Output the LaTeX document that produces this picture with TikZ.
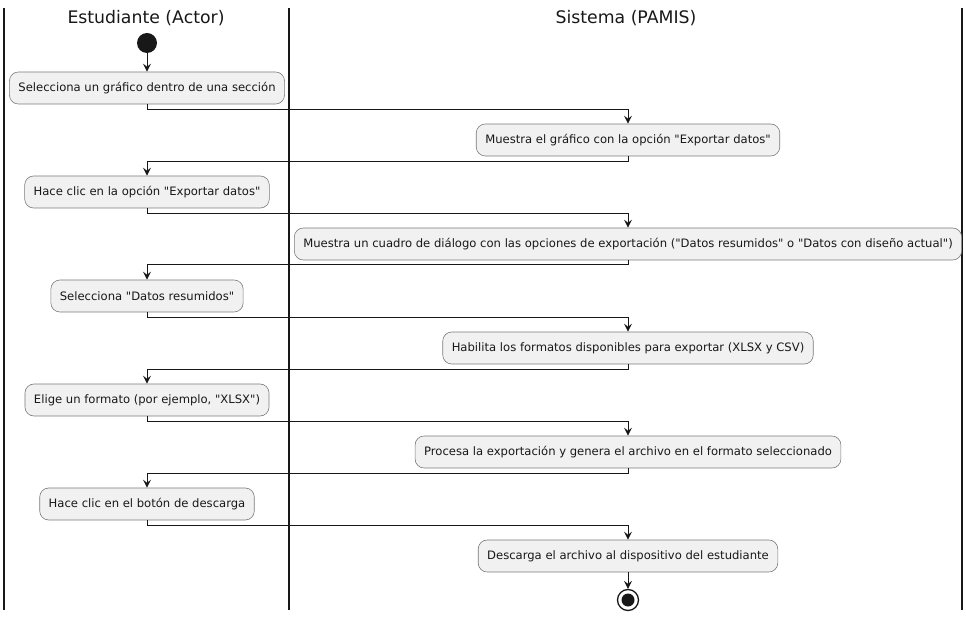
\documentclass[tikz,border=0pt]{standalone}
\usepackage{fontspec}
\setmainfont[Ligatures=TeXReset]{DejaVu Sans}
\usepackage{tikz}
\usetikzlibrary{arrows.meta, positioning, calc}

\definecolor{actfill}{HTML}{F1F1F1}
\definecolor{actline}{HTML}{7A7A7A}
\definecolor{ink}{HTML}{181818}

\begin{document}
\begin{tikzpicture}[
    x=1pt, y=-1pt,
    >={Stealth[length=8pt, width=8pt, inset=3pt]},
    action/.style={rectangle, draw=actline, fill=actfill, line width=0.6pt, rounded corners=9pt, minimum height=32pt, inner xsep=9pt, font=\fontsize{11.6}{13}\selectfont, text=ink},
    lanetitle/.style={font=\fontsize{17.3}{19}\selectfont, text=ink},
    lane/.style={draw=ink, line width=1.3pt},
    flow/.style={->, draw=ink, line width=0.9pt}
]
    \useasboundingbox (0,0) rectangle (966,617);

    % swimlanes
    \draw[lane] (4,8) -- (4,610);
    \draw[lane] (289,8) -- (289,610);
    \draw[lane] (962,8) -- (962,610);
    \node (lanea) [lanetitle] at (146,18) {Estudiante (Actor)};
    \node (laneb) [lanetitle] at (626,18) {Sistema (PAMIS)};

    % start
    \node (start) [circle, fill=ink, minimum size=20pt, inner sep=0pt] at (147,43) {};

    \node (sel) [action] at (147,88) {Selecciona un gráfico dentro de una sección};
    \node (show) [action] at (628,140) {Muestra el gráfico con la opción "Exportar datos"};
    \node (clic) [action] at (147,192) {Hace clic en la opción "Exportar datos"};
    \node (dlg) [action] at (628,244) {Muestra un cuadro de diálogo con las opciones de exportación ("Datos resumidos" o "Datos con diseño actual")};
    \node (resum) [action] at (147,296) {Selecciona "Datos resumidos"};
    \node (habil) [action] at (628,348) {Habilita los formatos disponibles para exportar (XLSX y CSV)};
    \node (fmt) [action] at (147,400) {Elige un formato (por ejemplo, "XLSX")};
    \node (proc) [action] at (628,452) {Procesa la exportación y genera el archivo en el formato seleccionado};
    \node (btn) [action] at (147,504) {Hace clic en el botón de descarga};
    \node (desc) [action] at (628,556) {Descarga el archivo al dispositivo del estudiante};

    % end
    \node (stop) [circle, draw=ink, line width=1.3pt, minimum size=21pt, inner sep=0pt] at (628,600) {};
    \node (stopdot) [circle, fill=ink, minimum size=13pt, inner sep=0pt] at (stop) {};

    \draw[flow] (start) -- (sel);
    \draw[flow] (sel.south) -- ++(0,5) -| (show.north);
    \draw[flow] (show.south) -- ++(0,5) -| (clic.north);
    \draw[flow] (clic.south) -- ++(0,5) -| (dlg.north);
    \draw[flow] (dlg.south) -- ++(0,4) -| (resum.north);
    \draw[flow] (resum.south) -- ++(0,5) -| (habil.north);
    \draw[flow] (habil.south) -- ++(0,5) -| (fmt.north);
    \draw[flow] (fmt.south) -- ++(0,5) -| (proc.north);
    \draw[flow] (proc.south) -- ++(0,5) -| (btn.north);
    \draw[flow] (btn.south) -- ++(0,5) -| (desc.north);
    \draw[flow] (desc) -- (stop);
\end{tikzpicture}
\end{document}
